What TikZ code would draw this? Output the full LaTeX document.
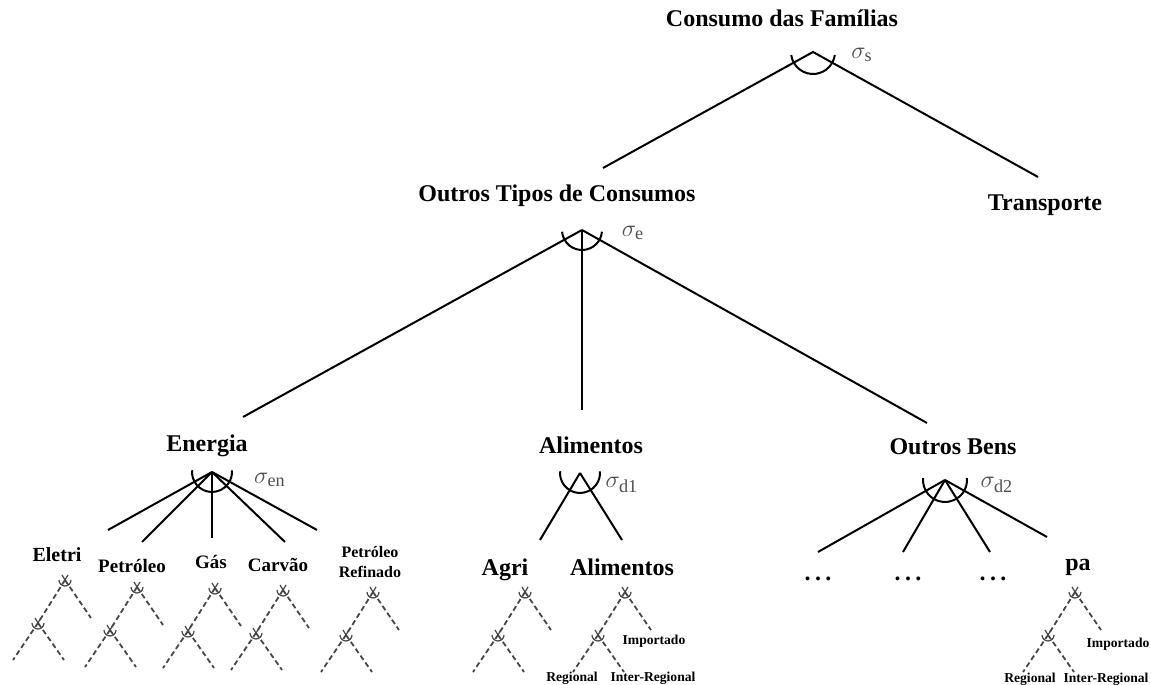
\documentclass[tikz,border=0pt]{standalone}
\usepackage{fontspec}
\setmainfont{Liberation Serif}
\usepackage{tikz}
\usetikzlibrary{calc}
\definecolor{sigGray}{HTML}{505050}
\definecolor{nestGray}{HTML}{474747}

\tikzset{
  lvl/.style={inner sep=0pt, yshift=-1.5pt, text height=1.5ex, text depth=.45ex, font=\bfseries\fontsize{12}{14}\selectfont},
  leaf/.style={inner sep=0pt, yshift=-1pt, text height=1.5ex, text depth=.45ex, font=\bfseries\fontsize{9.5}{11}\selectfont},
  leafsmall/.style={inner sep=0pt, align=center, font=\bfseries\fontsize{8}{10}\selectfont},
  origin/.style={inner sep=0pt, text height=1.5ex, text depth=.45ex, font=\bfseries\fontsize{6.8}{8}\selectfont},
  sig/.style={inner sep=0pt, text=sigGray, font=\fontsize{13}{15}\selectfont},
  branch/.style={line width=1pt},
  nest/.style={nestGray, line width=0.9pt, dash pattern=on 2.6pt off 1.6pt},
}
\newcommand{\threedots}{.\hspace{2.2pt}.\hspace{2.2pt}.}

\begin{document}
\begin{tikzpicture}[x=0.5pt, y=0.5pt]
\useasboundingbox (0,0) rectangle (1151,685);
% ---- top: household consumption ----
\node[lvl] (fam) at (782,666) {Consumo das Famílias};
\coordinate (fam-a) at (813,633);
\node[lvl] (oct) at (557,491) {Outros Tipos de Consumos};
\node[lvl] (trans) at (1045,482) {Transporte};
\coordinate (oct-t) at (603,517);
\coordinate (trans-t) at (1038,508);
\draw[branch] (oct-t) -- (fam-a) -- (trans-t);
\draw[branch] (fam-a) ++(188:11pt) arc (188:352:11pt);
\node[sig] (sig-s) at (862,630) {$\sigma_{\mathrm{s}}$};
% ---- second level ----
\coordinate (oct-a) at (582,455);
\node[lvl] (en) at (207,241) {Energia};
\node[lvl] (ali) at (591,239) {Alimentos};
\node[lvl] (ob) at (953,238) {Outros Bens};
\coordinate (en-t) at (243,268);
\coordinate (ali-t) at (582,275);
\coordinate (ob-t) at (927,262);
\foreach \c in {en,ali,ob}{\draw[branch] (oct-a) -- (\c-t);}
\draw[branch] (oct-a) ++(185:10pt) arc (185:355:10pt);
\node[sig] (sig-e) at (633,452) {$\sigma_{\mathrm{e}}$};
% ---- energy ----
\coordinate (en-a) at (212,213);
\node[leaf, font=\bfseries\fontsize{10}{12}\selectfont] (el) at (57,130) {Eletri};
\node[leaf] (pe) at (132,119) {Petróleo};
\node[leaf] (ga) at (211,123) {Gás};
\node[leaf] (ca) at (278,120) {Carvão};
\node[leafsmall] (pr) at (370,123) {Petróleo\\Refinado};
\coordinate (el-t) at (108,155);
\coordinate (pe-t) at (142,143);
\coordinate (ga-t) at (212,147);
\coordinate (ca-t) at (285,143);
\coordinate (pr-t) at (317,155);
\foreach \c in {el,pe,ga,ca,pr}{\draw[branch] (en-a) -- (\c-t);}
\draw[branch] (en-a) ++(175:10pt) arc (175:365:10pt);
\node[sig] (sig-en) at (270,205) {$\sigma_{\mathrm{en}}$};
% ---- food ----
\coordinate (ali-a) at (580,212);
\node[lvl] (agri) at (505,117) {Agri};
\node[lvl] (alm) at (622,117) {Alimentos};
\coordinate (agri-t) at (540,145);
\coordinate (alm-t) at (622,145);
\foreach \c in {agri,alm}{\draw[branch] (ali-a) -- (\c-t);}
\draw[branch] (ali-a) ++(175:10pt) arc (175:365:10pt);
\node[sig] (sig-d1) at (622,200) {$\sigma_{\mathrm{d1}}$};
% ---- other goods ----
\coordinate (ob-a) at (945,205);
\node[lvl] (d1) at (818,112) {\threedots};
\node[lvl] (d2) at (908,112) {\threedots};
\node[lvl] (d3) at (993,112) {\threedots};
\node[lvl] (pa) at (1078,122) {pa};
\coordinate (d1-t) at (818,133);
\coordinate (d2-t) at (903,133);
\coordinate (d3-t) at (990,133);
\coordinate (pa-t) at (1047,148);
\foreach \c in {d1,d2,d3,pa}{\draw[branch] (ob-a) -- (\c-t);}
\draw[branch] (ob-a) ++(175:11pt) arc (175:365:11pt);
\node[sig] (sig-d2) at (997,200) {$\sigma_{\mathrm{d2}}$};
% ---- regional / imported nests (dashed) ----
\foreach \n/\x/\y in {el/65/105, pe/137/98, ga/215/97, ca/283/95, pr/373/93, agri/525/93, alm/625/93, pa/1075/93}{
  \coordinate (\n-na) at (\x,\y);
  \coordinate (\n-nr) at ($(\n-na)+(26,-38)$);
  \coordinate (\n-nb) at ($(\n-na)+(-27,-43)$);
  \coordinate (\n-nbl) at ($(\n-na)+(-52,-80)$);
  \coordinate (\n-nbr) at ($(\n-nb)+(26,-37)$);
  \draw[nest] (\n-na) -- (\n-nr);
  \draw[nest] (\n-na) -- (\n-nb) -- (\n-nbl);
  \draw[nest] (\n-nb) -- (\n-nbr);
  \foreach \p in {na,nb}{
    \draw[nestGray, line width=0.6pt] ($(\n-\p)+(-3,5)$) -- (\n-\p) -- ($(\n-\p)+(3,5)$);
    \draw[nestGray, line width=0.6pt] (\n-\p) ++(180:3pt) arc (180:360:3pt);
  }
}
\node[origin] (imp1) at (654,45) {Importado};
\node[origin] (reg1) at (572,8) {Regional};
\node[origin] (int1) at (653,8) {Inter-Regional};
\node[origin] (imp2) at (1118,42) {Importado};
\node[origin] (reg2) at (1030,7) {Regional};
\node[origin] (int2) at (1106,7) {Inter-Regional};
\end{tikzpicture}
\end{document}
